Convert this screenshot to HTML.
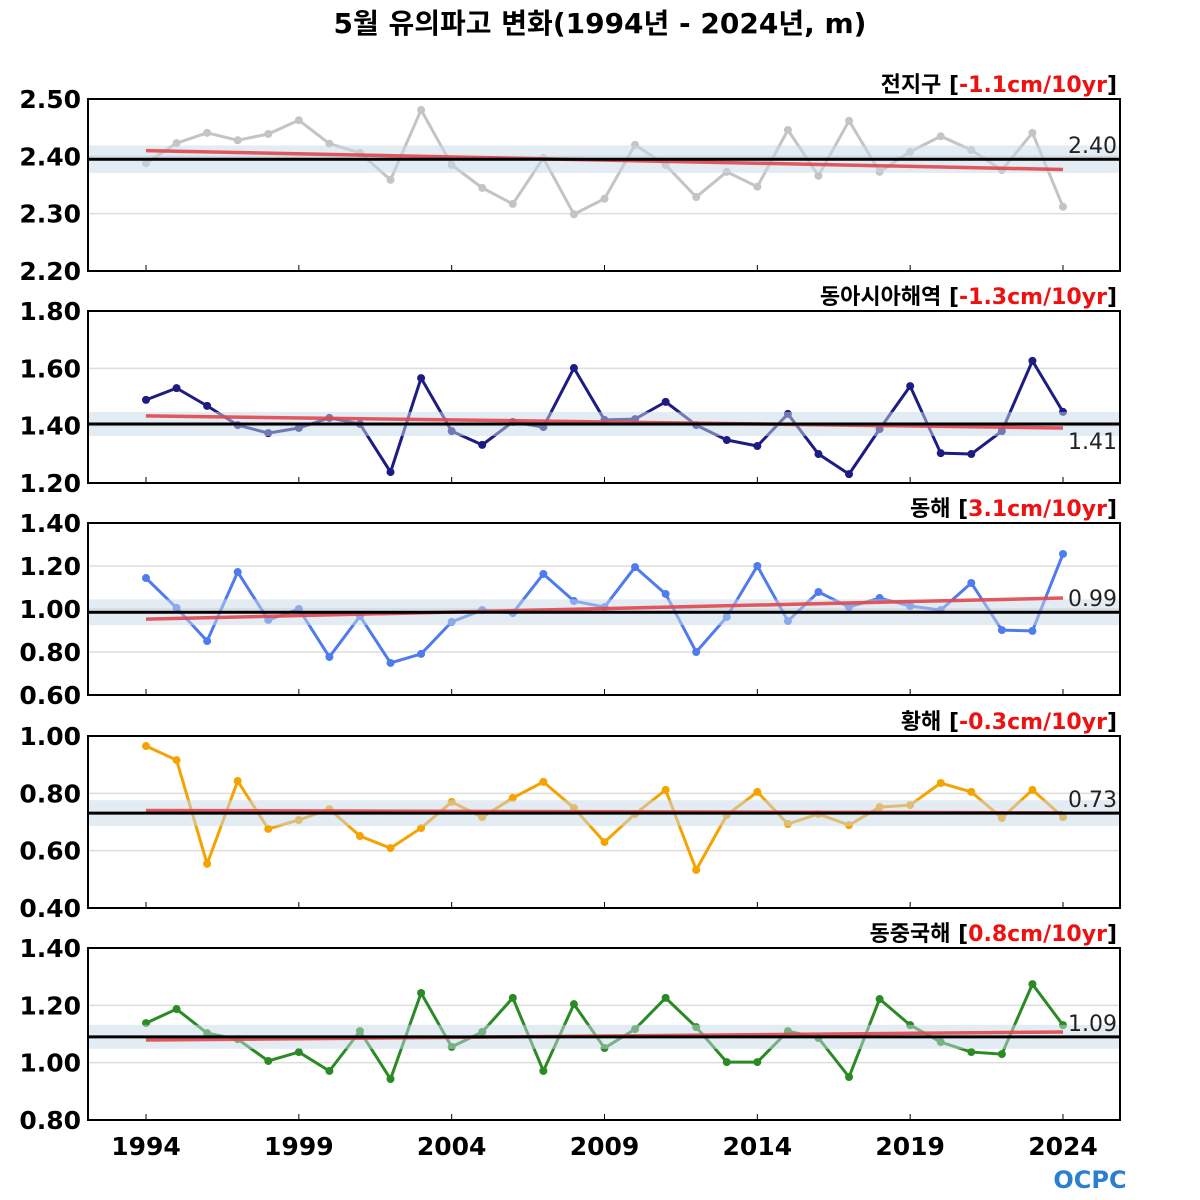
<!DOCTYPE html>
<html><head><meta charset="utf-8"><style>
body{margin:0;background:#fff;}
svg{display:block;font-family:"DejaVu Sans","Noto Sans CJK KR",sans-serif;}
</style></head><body>
<svg id="c" width="1200" height="1200">
<text x="600" y="33" text-anchor="middle" font-size="28" font-weight="bold">5월 유의파고 변화(1994년 - 2024년, m)</text>
</svg>
<script>
const years=[];for(let y=1994;y<=2024;y++)years.push(y);
const globalVals=[2.388,2.423,2.441,2.428,2.439,2.463,2.422,2.406,2.359,2.481,2.385,2.345,2.317,2.397,2.299,2.326,2.420,2.385,2.329,2.373,2.347,2.446,2.366,2.462,2.373,2.408,2.435,2.411,2.376,2.441,2.312];
const eastAsiaVals=[1.490,1.531,1.469,1.402,1.374,1.392,1.427,1.406,1.238,1.566,1.381,1.333,1.413,1.395,1.601,1.420,1.423,1.483,1.402,1.350,1.329,1.441,1.301,1.231,1.388,1.538,1.304,1.301,1.381,1.626,1.448];
const eastSeaVals=[1.144,1.005,0.851,1.172,0.949,1.0,0.777,0.967,0.749,0.791,0.940,0.995,0.981,1.163,1.037,1.009,1.195,1.070,0.800,0.963,1.2,0.944,1.079,1.009,1.051,1.014,0.995,1.121,0.902,0.898,1.256];
const yellowSeaVals=[0.965,0.916,0.554,0.843,0.676,0.707,0.745,0.651,0.609,0.679,0.770,0.717,0.784,0.840,0.749,0.630,0.728,0.812,0.533,0.724,0.805,0.693,0.728,0.689,0.752,0.759,0.836,0.805,0.714,0.812,0.717];
const ecsVals=[1.138,1.187,1.103,1.082,1.006,1.037,0.971,1.110,0.943,1.243,1.055,1.107,1.226,0.971,1.204,1.051,1.117,1.226,1.124,1.002,1.002,1.110,1.086,0.950,1.222,1.131,1.072,1.037,1.030,1.274,1.131];
const means=[2.395,1.406,0.985,0.731,1.090];
const meanLabels=["2.40","1.41","0.99","0.73","1.09"];
const bands=[0.024,0.042,0.06,0.045,0.042];
const trendStart=[2.410,1.434,0.953,0.740,1.079];
const trendEnd=[2.377,1.392,1.051,0.732,1.107];
const names=["전지구","동아시아해역","동해","황해","동중국해"];
const trendLabels=["-1.1cm/10yr","-1.3cm/10yr","3.1cm/10yr","-0.3cm/10yr","0.8cm/10yr"];
const yTicks=[["2.50","2.40","2.30","2.20"],["1.80","1.60","1.40","1.20"],["1.40","1.20","1.00","0.80","0.60"],["1.00","0.80","0.60","0.40"],["1.40","1.20","1.00","0.80"]];
const xTicks=[1994,1999,2004,2009,2014,2019,2024];
const series=[globalVals,eastAsiaVals,eastSeaVals,yellowSeaVals,ecsVals];
const colors=["#c4c4c4","#1c1c82","#4f7bef","#f5a300","#2a8a24"];
const tops=[99,311,523,736,948];const H=172;const L=88,R=1120;
const svg=document.getElementById('c');const NS='http://www.w3.org/2000/svg';
function mk(t,a,p){const e=document.createElementNS(NS,t);for(const k in a)e.setAttribute(k,a[k]);(p||svg).appendChild(e);return e;}
const x=yr=>146+(yr-1994)*(1063-146)/30;
series.forEach((vals,i)=>{
  const top=tops[i];const tk=yTicks[i].map(Number);const ymax=tk[0],ymin=tk[tk.length-1];
  const y=v=>top+(ymax-v)/(ymax-ymin)*H;
  const g=mk('g',{});
  
  
  tk.forEach((v,j)=>{
    if(j>0&&j<tk.length-1){const gl=mk('line',{x1:L,x2:R,y1:y(v),y2:y(v),stroke:'#ddd','stroke-width':1.5},g);}
    const t=mk('text',{x:81,y:y(v)+9,'text-anchor':'end','font-size':25,'font-weight':'bold'},g);t.textContent=yTicks[i][j];
    
  });
  xTicks.forEach(yr=>{mk('line',{x1:x(yr),x2:x(yr),y1:top+H,y2:top+H-6,stroke:'#000','stroke-width':1},g);});
  const pts=vals.map((v,k)=>x(years[k])+','+y(v)).join(' ');
  const pl=mk('polyline',{points:pts,fill:'none',stroke:colors[i],'stroke-width':3,'stroke-linejoin':'round'},g);
  
  vals.forEach((v,k)=>{const c=mk('circle',{cx:x(years[k]),cy:y(v),r:4,fill:colors[i]},g);
    });
  const b=mk('rect',{x:L,y:y(means[i]+bands[i]),width:R-L,height:y(means[i]-bands[i])-y(means[i]+bands[i]),fill:'#c8d8e8','fill-opacity':0.5},g);
  
  const tr=mk('line',{x1:x(1994),x2:x(2024),y1:y(trendStart[i]),y2:y(trendEnd[i]),stroke:'#e0474c','stroke-width':3.5,'stroke-opacity':0.9},g);
  
  const ml=mk('line',{x1:L,x2:R,y1:y(means[i]),y2:y(means[i]),stroke:'#000','stroke-width':3},g);
  
  const mt=mk('text',{x:1117,y:i==1?y(means[i])+25:y(means[i])-6,'text-anchor':'end','font-size':22,fill:'#222'},g);mt.textContent=meanLabels[i];
  
  const fr=mk('rect',{x:L,y:top,width:R-L,height:H,fill:'none',stroke:'#000','stroke-width':2},g);
  
  const tt=mk('text',{x:1117,y:top-7,'text-anchor':'end','font-size':22,'font-weight':'bold'},g);
  
  const s1=mk('tspan',{},tt);s1.textContent=names[i]+' [';
  const s2=mk('tspan',{fill:'#ee1111'},tt);s2.textContent=trendLabels[i];
  const s3=mk('tspan',{},tt);s3.textContent=']';
});
xTicks.forEach(yr=>{const t=mk('text',{x:x(yr),y:1155,'text-anchor':'middle','font-size':25,'font-weight':'bold'});t.textContent=yr;
  });
const lg=mk('text',{x:1090,y:1188,'text-anchor':'middle','font-size':24,'font-weight':'bold',fill:'#2a7fd0'});lg.textContent='OCPC';

</script>
</body></html>
